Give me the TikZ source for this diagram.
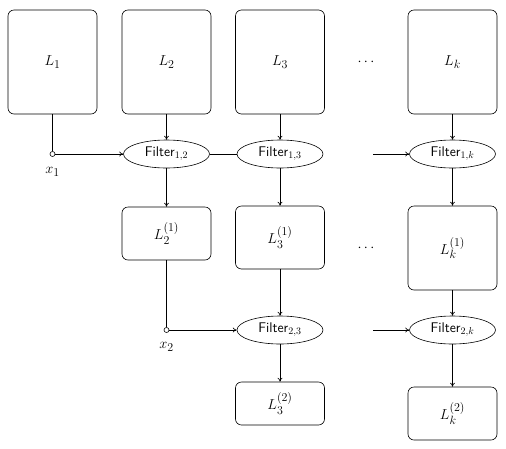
\documentclass[tikz,border=0pt]{standalone}
\usetikzlibrary{shapes.geometric,arrows.meta}
\DeclareMathSizes{15}{15}{11.5}{9}
\begin{document}
\begin{tikzpicture}[x=1pt,y=-1pt,
  font=\fontsize{15}{17}\selectfont,
  box/.style={draw, rounded corners=6pt, line width=0.6pt, minimum width=89pt, inner sep=0pt},
  filt/.style={draw, ellipse, line width=0.6pt, minimum width=86pt, minimum height=28pt, inner sep=0pt, font=\fontsize{14}{16}\selectfont\sffamily},
  dot/.style={draw, circle, line width=0.6pt, minimum size=5pt, inner sep=0pt},
  arr/.style={-{To[length=4pt,width=5pt]}, line width=0.6pt},
  ln/.style={line width=0.6pt}]
\useasboundingbox (0,0) rectangle (506,448);
% top row
\node[box, minimum height=104pt] (L1) at (52.5,62) {$L_1$};
\node[box, minimum height=104pt] (L2) at (166.5,62) {$L_2$};
\node[box, minimum height=104pt] (L3) at (280,62) {$L_3$};
\node[box, minimum height=104pt] (Lk) at (452.5,62) {$L_k$};
\node (d1) at (366,62) {$\cdots$};
% filter row 1
\node[dot] (x1) at (52.5,154) {};
\node (x1l) at (52.5,172) {$x_1$};
\node[filt] (F12) at (166.5,154) {Filter$_{1,2}$};
\node[filt] (F13) at (280,154) {Filter$_{1,3}$};
\node[filt] (F1k) at (452.5,154) {Filter$_{1,k}$};
\coordinate (c1) at (373,154);
% second row
\node[box, minimum height=53pt] (L21) at (166.5,233.5) {$L_2^{(1)}$};
\node[box, minimum height=63pt] (L31) at (280,237.5) {$L_3^{(1)}$};
\node[box, minimum height=84pt] (Lk1) at (452.5,248) {$L_k^{(1)}$};
\node (d2) at (366,248) {$\cdots$};
% filter row 2
\node[dot] (x2) at (166.5,330) {};
\node (x2l) at (166.5,347) {$x_2$};
\node[filt] (F23) at (280,330) {Filter$_{2,3}$};
\node[filt] (F2k) at (452.5,330) {Filter$_{2,k}$};
\coordinate (c2) at (373,330);
% third row
\node[box, minimum height=43pt] (L32) at (280,403.5) {$L_3^{(2)}$};
\node[box, minimum height=53pt] (Lk2) at (452.5,413.5) {$L_k^{(2)}$};
% connectors
\draw[ln] (L1) -- (x1);
\draw[arr] (x1) -- (F12);
\draw[ln] (F12) -- (F13);
\draw[arr] (c1) -- (F1k);
\draw[arr] (L2) -- (F12);
\draw[arr] (L3) -- (F13);
\draw[arr] (Lk) -- (F1k);
\draw[arr] (F12) -- (L21);
\draw[arr] (F13) -- (L31);
\draw[arr] (F1k) -- (Lk1);
\draw[ln] (L21) -- (x2);
\draw[arr] (x2) -- (F23);
\draw[arr] (c2) -- (F2k);
\draw[arr] (L31) -- (F23);
\draw[arr] (Lk1) -- (F2k);
\draw[arr] (F23) -- (L32);
\draw[arr] (F2k) -- (Lk2);
\end{tikzpicture}
\end{document}
